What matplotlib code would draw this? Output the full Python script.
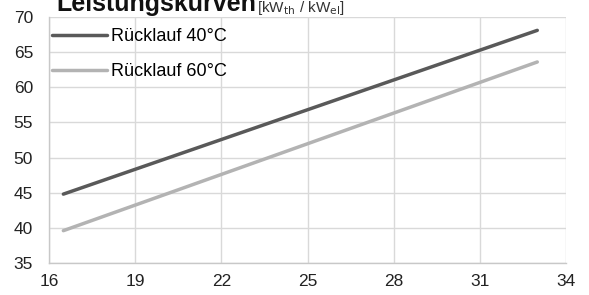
import matplotlib.pyplot as plt

plt.rcParams['font.family'] = ['Liberation Sans', 'DejaVu Sans']

# Vorlauftemperatur / Leistung
x_vals = [16.5, 33.0]
ruecklauf_40 = [44.8, 68.1]
ruecklauf_60 = [39.6, 63.6]
x_ticks = [16, 19, 22, 25, 28, 31, 34]
y_ticks = [35, 40, 45, 50, 55, 60, 65, 70]

fig = plt.figure(figsize=(5.89, 2.95), dpi=100)
ax = fig.add_axes([49 / 589, 1 - 263 / 295, (566 - 49) / 589, (263 - 17) / 295])

ax.plot(x_vals, ruecklauf_40, color='#595959', lw=2.5, solid_capstyle='round', label='Rücklauf 40°C')
ax.plot(x_vals, ruecklauf_60, color='#b3b3b3', lw=2.5, solid_capstyle='round', label='Rücklauf 60°C')

ax.set_xlim(16, 34)
ax.set_ylim(35, 70)
ax.set_xticks(x_ticks)
ax.set_yticks(y_ticks)
ax.grid(True, color='#d9d9d9', lw=1)
ax.set_axisbelow(True)
for s in ['top', 'right']:
    ax.spines[s].set_visible(False)
for s in ['left', 'bottom']:
    ax.spines[s].set_color('#c8c8c8')
    ax.spines[s].set_linewidth(1)
ax.tick_params(length=0, labelsize=12.5, colors='#222222')
ax.tick_params(axis='x', pad=8)
ax.tick_params(axis='y', pad=11.5)

leg = ax.legend(loc='upper left', frameon=False, fontsize=13, handlelength=3.05,
                handletextpad=0.22, borderaxespad=0, borderpad=0.1, labelspacing=1.0,
                bbox_to_anchor=(0.002, 0.963))

fig.text(56 / 589, 1 - 11 / 295, 'Leistungskurven', fontsize=18, fontweight='bold',
         color='#111111', va='baseline')
fig.text(257 / 589, 1 - 12 / 295, r'[kW$_{\mathrm{th}}$ / kW$_{\mathrm{el}}$]', fontsize=11,
         color='#333333', va='baseline')

fig.savefig('out.png', dpi=100)
